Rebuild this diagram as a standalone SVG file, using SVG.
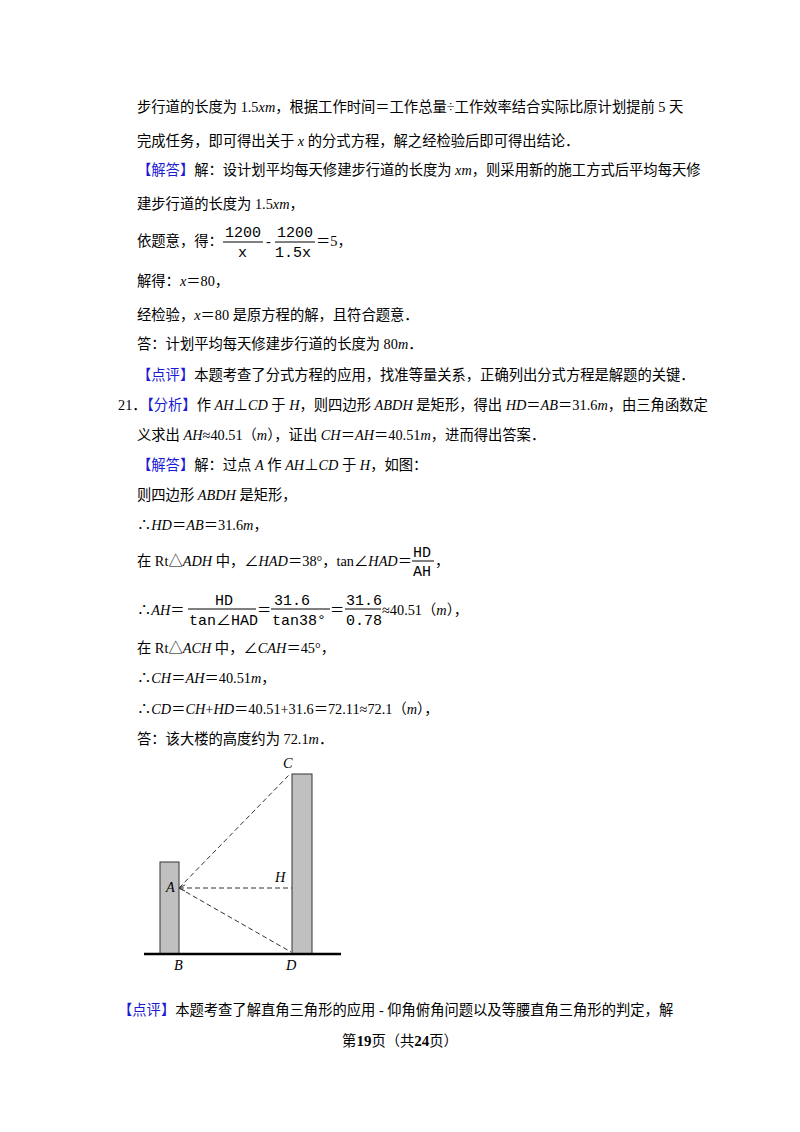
<svg xmlns="http://www.w3.org/2000/svg" width="800" height="1132" viewBox="0 0 800 1132">
<style>
text{font-family:"Liberation Serif","Noto Sans CJK SC",serif;font-size:14.3px;fill:#000}
.b{fill:#1a1ad6}
.m{font-family:"Liberation Mono","Noto Sans CJK SC",monospace;font-size:15px}
.i{font-style:italic}
.fl{stroke:#000;stroke-width:1}
.d{stroke:#333;stroke-width:1;stroke-dasharray:5,3;fill:none}
.bar{fill:#c0c0c0;stroke:#333;stroke-width:1}
</style>
<rect width="800" height="1132" fill="#fff"/>
<g id="text">
<text x="137" y="112">步行道的长度为 1.5<tspan class="i">xm</tspan>，根据工作时间＝工作总量÷工作效率结合实际比原计划提前 5 天</text>
<text x="137" y="146">完成任务，即可得出关于 <tspan class="i">x</tspan> 的分式方程，解之经检验后即可得出结论．</text>
<text x="137" y="175"><tspan class="b">【解答】</tspan>解：设计划平均每天修建步行道的长度为 <tspan class="i">xm</tspan>，则采用新的施工方式后平均每天修</text>
<text x="137" y="209">建步行道的长度为 1.5<tspan class="i">xm</tspan>，</text>
<text x="137" y="246">依题意，得：</text>
<text class="m" x="225" y="237">1200</text>
<line class="fl" x1="223" y1="242" x2="263" y2="242"/>
<text class="m" x="238" y="257">x</text>
<text x="266" y="246">-</text>
<text class="m" x="277" y="237">1200</text>
<line class="fl" x1="275" y1="242" x2="315" y2="242"/>
<text class="m" x="275" y="257">1.5x</text>
<text x="316" y="246">＝5，</text>
<text x="137" y="286">解得：<tspan class="i">x</tspan>＝80，</text>
<text x="137" y="320">经检验，<tspan class="i">x</tspan>＝80 是原方程的解，且符合题意．</text>
<text x="137" y="349">答：计划平均每天修建步行道的长度为 80<tspan class="i">m</tspan>．</text>
<text x="137" y="380"><tspan class="b">【点评】</tspan>本题考查了分式方程的应用，找准等量关系，正确列出分式方程是解题的关键．</text>
<text x="118" y="410">21．<tspan class="b">【分析】</tspan>作 <tspan class="i">AH</tspan>⊥<tspan class="i">CD</tspan> 于 <tspan class="i">H</tspan>，则四边形 <tspan class="i">ABDH</tspan> 是矩形，得出 <tspan class="i">HD</tspan>＝<tspan class="i">AB</tspan>＝31.6<tspan class="i">m</tspan>，由三角函数定</text>
<text x="137" y="440">义求出 <tspan class="i">AH</tspan>≈40.51（<tspan class="i">m</tspan>），证出 <tspan class="i">CH</tspan>＝<tspan class="i">AH</tspan>＝40.51<tspan class="i">m</tspan>，进而得出答案．</text>
<text x="137" y="470"><tspan class="b">【解答】</tspan>解：过点 <tspan class="i">A</tspan> 作 <tspan class="i">AH</tspan>⊥<tspan class="i">CD</tspan> 于 <tspan class="i">H</tspan>，如图：</text>
<text x="137" y="500">则四边形 <tspan class="i">ABDH</tspan> 是矩形，</text>
<text x="137" y="530">∴<tspan class="i">HD</tspan>＝<tspan class="i">AB</tspan>＝31.6<tspan class="i">m</tspan>，</text>
<text x="137" y="566">在 Rt△<tspan class="i">ADH</tspan> 中，∠<tspan class="i">HAD</tspan>＝38°，tan∠<tspan class="i">HAD</tspan>＝</text>
<text class="m" x="413" y="557" font-size="13">HD</text>
<line class="fl" x1="412" y1="561" x2="434" y2="561"/>
<text class="m" x="413" y="576" font-size="13">AH</text>
<text x="435" y="566">，</text>
<text x="137" y="615">∴<tspan class="i">AH</tspan>＝</text>
<text class="m" x="215" y="605">HD</text>
<line class="fl" x1="188" y1="609" x2="256" y2="609"/>
<text class="m" x="189" y="625">tan∠HAD</text>
<text x="257" y="615">＝</text>
<text class="m" x="274" y="605">31.6</text>
<line class="fl" x1="271" y1="609" x2="330" y2="609"/>
<text class="m" x="272" y="625">tan38°</text>
<text x="330" y="615">＝</text>
<text class="m" x="346" y="605">31.6</text>
<line class="fl" x1="345" y1="609" x2="381" y2="609"/>
<text class="m" x="346" y="625">0.78</text>
<text x="382" y="615">≈40.51（<tspan class="i">m</tspan>），</text>
<text x="137" y="653">在 Rt△<tspan class="i">ACH</tspan> 中，∠<tspan class="i">CAH</tspan>＝45°，</text>
<text x="137" y="683">∴<tspan class="i">CH</tspan>＝<tspan class="i">AH</tspan>＝40.51<tspan class="i">m</tspan>，</text>
<text x="137" y="714">∴<tspan class="i">CD</tspan>＝<tspan class="i">CH</tspan>+<tspan class="i">HD</tspan>＝40.51+31.6＝72.11≈72.1（<tspan class="i">m</tspan>），</text>
<text x="137" y="744">答：该大楼的高度约为 72.1<tspan class="i">m</tspan>．</text>
<text x="118" y="1015"><tspan class="b">【点评】</tspan>本题考查了解直角三角形的应用 - 仰角俯角问题以及等腰直角三角形的判定，解</text>
<text x="400" y="1046" text-anchor="middle" font-size="13">第<tspan font-weight="bold" font-size="15">19</tspan>页（共<tspan font-weight="bold" font-size="15">24</tspan>页）</text>
</g>
<g id="figure">
<rect class="bar" x="160" y="862" width="19" height="92"/>
<rect class="bar" x="292" y="774" width="20" height="180"/>
<line x1="144" y1="954" x2="341" y2="954" stroke="#000" stroke-width="2.5"/>
<g id="connectors">
<line class="d" x1="179" y1="888" x2="290" y2="774"/>
<line class="d" x1="179" y1="888" x2="292" y2="888"/>
<line class="d" x1="179" y1="888" x2="291" y2="952"/>
<path d="M185,885 L179,888 L185,891" fill="none" stroke="#333"/>
</g>
<text class="i" x="283" y="768" font-size="13">C</text>
<text class="i" x="275" y="882" font-size="13">H</text>
<text class="i" x="166" y="892" font-size="13">A</text>
<text class="i" x="174" y="970" font-size="13">B</text>
<text class="i" x="286" y="970" font-size="13">D</text>
</g>
</svg>
